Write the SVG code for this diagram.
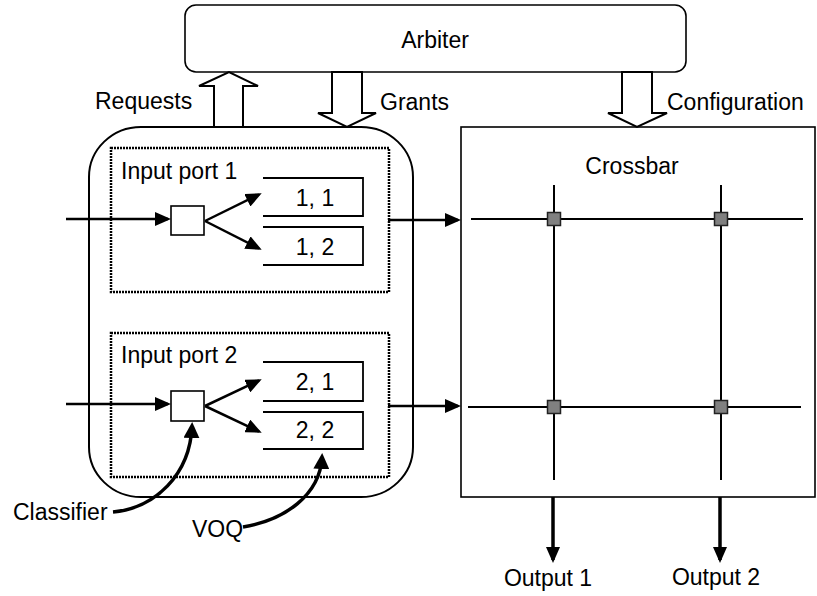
<svg xmlns="http://www.w3.org/2000/svg" width="817" height="596" viewBox="0 0 817 596">
  <style>
    text { font-family: "Liberation Sans", Arial, sans-serif; font-size: 23px; fill: #000; }
    .box { fill: #fff; stroke: #000; stroke-width: 1.6; }
    .outer { fill: none; stroke: #000; stroke-width: 2; }
    .dotted { fill: none; stroke: #000; stroke-width: 2.5; stroke-dasharray: 2 1; }
    .hollow { fill: #fff; stroke: #000; stroke-width: 2; stroke-linejoin: miter; }
    .voq { fill: none; stroke: #000; stroke-width: 1.8; }
    .wire { fill: none; stroke: #000; stroke-width: 2.5; }
    .xline { fill: none; stroke: #000; stroke-width: 2; }
    .xpt { fill: #808080; stroke: #222; stroke-width: 1.5; }
    .thick { fill: none; stroke: #000; stroke-width: 3.5; }
    .c { text-anchor: middle; }
  </style>
  <defs>
    <marker id="ah" viewBox="0 0 16 14" refX="13" refY="7" markerWidth="16" markerHeight="14" markerUnits="userSpaceOnUse" orient="auto">
      <path d="M0,0 L16,7 L0,14 z" fill="#000"/>
    </marker>
    <marker id="ahc" viewBox="0 0 16 16" refX="12" refY="8" markerWidth="16" markerHeight="16" markerUnits="userSpaceOnUse" orient="auto">
      <path d="M0,0 L16,8 L0,16 z" fill="#000"/>
    </marker>
  </defs>
  <rect width="817" height="596" fill="#fff"/>

  <g id="arbiter">
    <rect class="box" x="185" y="5" width="501" height="67" rx="11"/>
    <text class="c" x="435" y="48">Arbiter</text>
  </g>

  <g id="input-module">
    <rect class="outer" x="89" y="127" width="324" height="370" rx="52" ry="50"/>
  </g>

  <g id="input-port-1">
    <rect class="dotted" x="111" y="148" width="278" height="144"/>
    <text x="121" y="179">Input port 1</text>
  </g>
  <g id="classifier-1">
    <rect class="box" x="171" y="206" width="33" height="29"/>
  </g>
  <g id="voq-1-1">
    <path class="voq" d="M263,178 H363 V216 H263"/>
    <text class="c" x="315" y="206">1, 1</text>
  </g>
  <g id="voq-1-2">
    <path class="voq" d="M263,227 H363 V265 H263"/>
    <text class="c" x="315" y="255">1, 2</text>
  </g>

  <g id="input-port-2">
    <rect class="dotted" x="111" y="333" width="278" height="144"/>
    <text x="121" y="363">Input port 2</text>
  </g>
  <g id="classifier-2">
    <rect class="box" x="171" y="391" width="33" height="30"/>
  </g>
  <g id="voq-2-1">
    <path class="voq" d="M263,362 H363 V401 H263"/>
    <text class="c" x="315" y="390">2, 1</text>
  </g>
  <g id="voq-2-2">
    <path class="voq" d="M263,412 H363 V449 H263"/>
    <text class="c" x="315" y="438">2, 2</text>
  </g>

  <g id="crossbar">
    <rect class="box" x="461" y="127" width="354" height="370"/>
    <text class="c" x="632" y="174">Crossbar</text>
    <line class="xline" x1="471" y1="219" x2="803" y2="219"/>
    <line class="xline" x1="468" y1="407" x2="801" y2="407"/>
    <line class="xline" x1="554" y1="185" x2="554" y2="480"/>
    <line class="xline" x1="721" y1="185" x2="721" y2="480"/>
    <rect class="xpt" x="547.5" y="212.5" width="13" height="13"/>
    <rect class="xpt" x="714.5" y="212.5" width="13" height="13"/>
    <rect class="xpt" x="547.5" y="400.5" width="13" height="13"/>
    <rect class="xpt" x="714.5" y="400.5" width="13" height="13"/>
  </g>

  <g id="connectors">
    <polygon id="requests-arrow" class="hollow" points="214,127 214,86 199,86 229,72 258,86 243,86 243,127"/>
    <polygon id="grants-arrow" class="hollow" points="332,72 332,113 318,113 347,127 376,113 362,113 362,72"/>
    <polygon id="configuration-arrow" class="hollow" points="622,72 622,113 608,113 637,127 667,113 652,113 652,72"/>

    <line class="wire" x1="66" y1="219" x2="168" y2="219" marker-end="url(#ah)"/>
    <line class="wire" x1="205" y1="221" x2="259" y2="194.5" marker-end="url(#ah)"/>
    <line class="wire" x1="205" y1="221" x2="259" y2="248.5" marker-end="url(#ah)"/>
    <line class="wire" x1="388" y1="220" x2="458" y2="220" marker-end="url(#ah)"/>

    <line class="wire" x1="66" y1="404" x2="168" y2="404" marker-end="url(#ah)"/>
    <line class="wire" x1="205" y1="406" x2="259" y2="380.5" marker-end="url(#ah)"/>
    <line class="wire" x1="205" y1="406" x2="259" y2="431.5" marker-end="url(#ah)"/>
    <line class="wire" x1="388" y1="406" x2="458" y2="406" marker-end="url(#ah)"/>

    <line class="thick" x1="553" y1="497" x2="553" y2="560" stroke-width="3" marker-end="url(#ah)"/>
    <line class="thick" x1="720" y1="497" x2="720" y2="560" stroke-width="3" marker-end="url(#ah)"/>

    <path class="thick" d="M113,512 C155,508 190,475 192,426" marker-end="url(#ahc)"/>
    <path class="thick" d="M243,527 C285,520 320,495 322,457" marker-end="url(#ahc)"/>
  </g>

  <g id="labels">
    <text x="95" y="109">Requests</text>
    <text x="380" y="110">Grants</text>
    <text x="667" y="110">Configuration</text>
    <text x="13" y="520">Classifier</text>
    <text x="192" y="537">VOQ</text>
    <text class="c" x="548" y="586">Output 1</text>
    <text class="c" x="716" y="585">Output 2</text>
  </g>
</svg>
